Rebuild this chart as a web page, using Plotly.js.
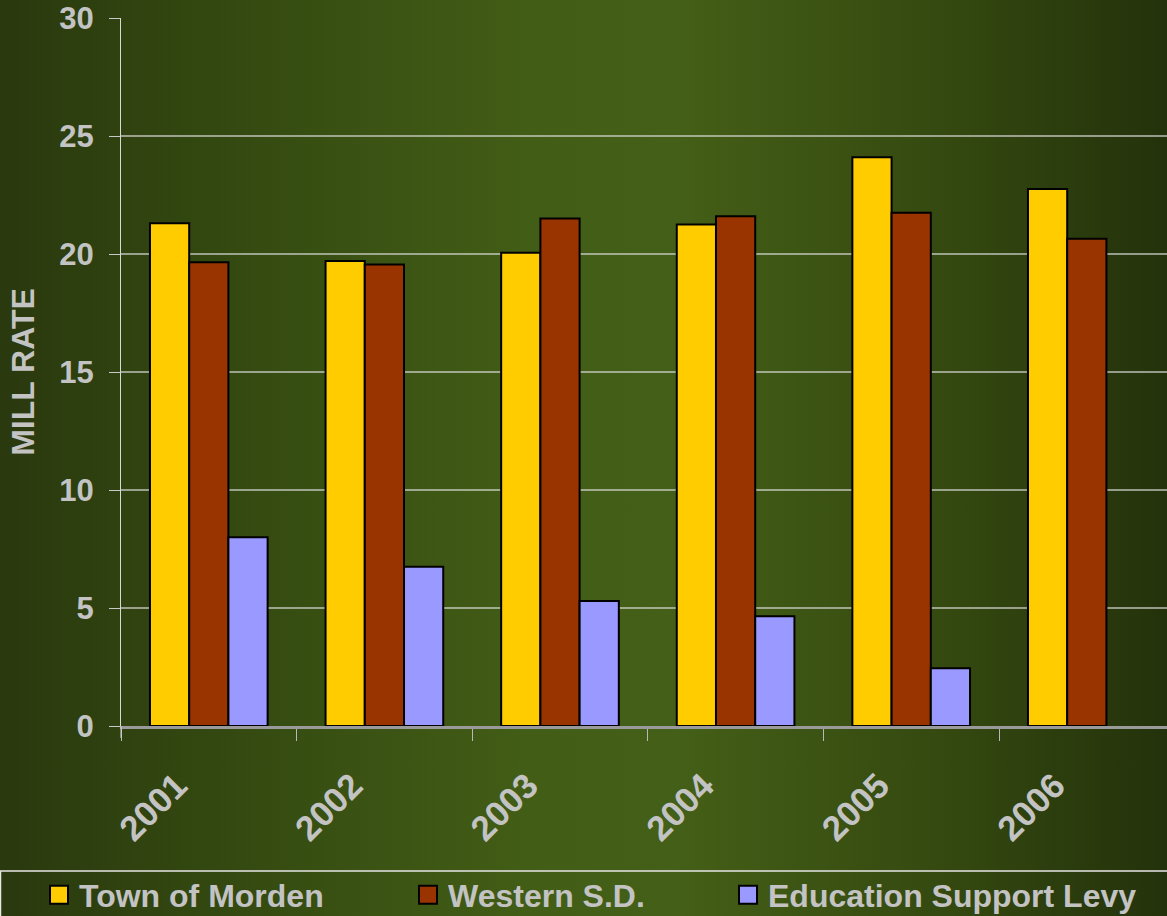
<!DOCTYPE html>
<html>
<head>
<meta charset="utf-8">
<script src="https://cdn.plot.ly/plotly-3.0.1.min.js"></script>
<style>
  html, body { margin: 0; padding: 0; }
  body {
    width: 1167px; height: 916px; overflow: hidden;
    background: linear-gradient(to right, #2a390e 0%, #354b11 22%, #425d16 45%, #445f17 58%, #354a10 80%, #24320b 100%);
  }
  #chart { width: 1167px; height: 916px; }
</style>
</head>
<body>
<div id="chart"></div>
<script>
// ---- data ----
const years = ['2001', '2002', '2003', '2004', '2005', '2006'];
const townOfMorden = [21.3, 19.7, 20.05, 21.25, 24.1, 22.75];
const westernSD = [19.65, 19.55, 21.5, 21.6, 21.75, 20.65];
const educationSupportLevy = [8.0, 6.75, 5.3, 4.65, 2.45, null];
const seriesNames = ['Town of Morden', 'Western S.D.', 'Education Support Levy'];
const yTicks = [0, 5, 10, 15, 20, 25, 30];

const W = 1167, H = 916;
const L = 121, R = 0, T = 18, B = 190;
const plotW = W - L - R, plotH = H - T - B;
const px2x = p => (p - L) / plotW;
const py2y = p => (H - B - p) / plotH;

const txtColor = '#c3c3c3';
const font = (size) => ({ family: 'Liberation Sans, Arial, sans-serif', size: size, color: txtColor, weight: 'bold' });

const colors = ['#ffcc00', '#993300', '#9999ff'];
const seriesData = [townOfMorden, westernSD, educationSupportLevy];
const legendIds = ['legend', 'legend2', 'legend3'];

const traces = seriesData.map((vals, i) => ({
  type: 'bar',
  name: seriesNames[i],
  x: years,
  y: vals,
  marker: { color: colors[i], line: { color: '#000000', width: 2 } },
  legend: legendIds[i],
  hoverinfo: 'x+y+name'
}));

const legendY = py2y(895);
function legendAt(px) {
  return {
    x: px2x(px), xanchor: 'left', y: legendY, yanchor: 'middle',
    orientation: 'h', font: font(32), bgcolor: 'rgba(0,0,0,0)',
    borderwidth: 0, itemclick: false, itemdoubleclick: false
  };
}

const layout = {
  width: W, height: H,
  margin: { l: L, r: R, t: T, b: B, pad: 0, autoexpand: false },
  paper_bgcolor: 'rgba(0,0,0,0)',
  plot_bgcolor: 'rgba(0,0,0,0)',
  barmode: 'group',
  bargap: 0.33,
  bargroupgap: 0,
  showlegend: true,
  legend: legendAt(39),
  legend2: legendAt(408),
  legend3: legendAt(728),
  xaxis: {
    type: 'category',
    range: [-0.5, -0.5 + plotW / 175.6],
    tickson: 'boundaries',
    ticks: 'outside', ticklen: 12, tickcolor: '#b8b8b8', tickwidth: 1,
    tickangle: -45,
    tickfont: font(35),
    ticklabelstandoff: 22,
    ticklabelshift: -32,
    showline: true, linecolor: '#9a9a9a', linewidth: 3,
    showgrid: false, zeroline: false, fixedrange: true, automargin: false
  },
  yaxis: {
    range: [0, 30],
    tickvals: yTicks,
    ticktext: yTicks.map(String),
    ticks: 'outside', ticklen: 11, tickcolor: '#c8c8c8', tickwidth: 1,
    tickfont: font(31),
    ticklabelstandoff: 9,
    showline: true, linecolor: '#d8d8d8', linewidth: 1,
    showgrid: true, gridcolor: 'rgba(225,225,225,0.6)', gridwidth: 1.5,
    zeroline: false,
    automargin: true,
    title: { text: 'MILL RATE', font: font(32), standoff: 15 },
    fixedrange: true
  },
  shapes: [
    { type: 'rect', xref: 'paper', yref: 'paper',
      x0: px2x(0.5), x1: px2x(1200), y0: py2y(871), y1: py2y(1000),
      line: { color: '#e6e6e6', width: 1.5 }, fillcolor: 'rgba(0,0,0,0)' },
    { type: 'line', xref: 'paper', yref: 'paper',
      x0: 0, x1: 0, y0: 0, y1: py2y(738),
      line: { color: '#d8d8d8', width: 1 } }
  ]
};

Plotly.newPlot('chart', traces, layout, { displayModeBar: false, staticPlot: true }).then(() => {
  document.querySelectorAll('.legendpoints path').forEach(p => {
    p.setAttribute('d', 'M9,9H-9V-9H9Z');
    p.style.strokeWidth = '2px';
  });
});
</script>
</body>
</html>
